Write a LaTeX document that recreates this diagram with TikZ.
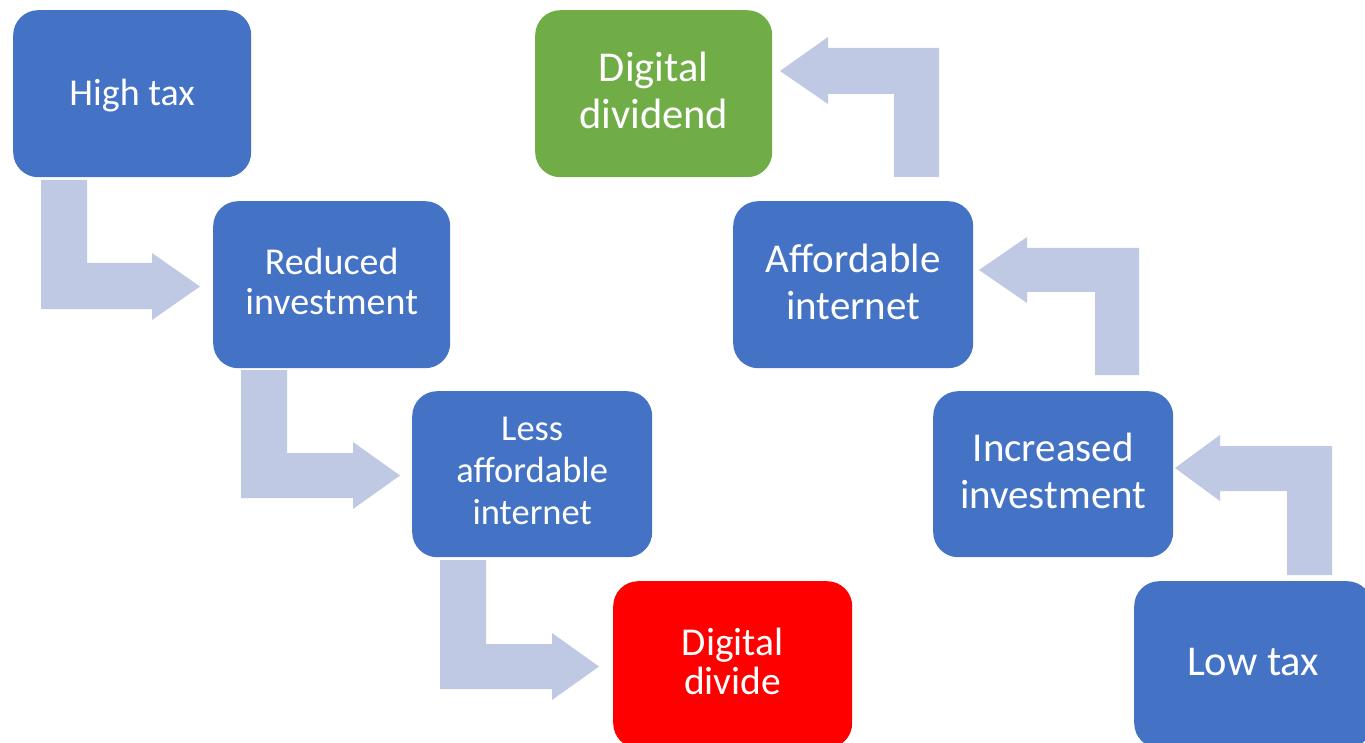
\documentclass[tikz,border=0pt]{standalone}
\usepackage{fontspec}
\setmainfont{Carlito}
\definecolor{boxblue}{RGB}{68,114,196}
\definecolor{boxgreen}{RGB}{112,173,71}
\definecolor{boxred}{RGB}{255,0,0}
\definecolor{arrowfill}{RGB}{191,201,228}
\tikzset{
  stagebox/.style={rectangle, rounded corners=25pt, fill=boxblue, draw=none,
    minimum width=238pt, minimum height=167pt, inner sep=0pt, anchor=north west,
    align=center, text=white, text depth=6pt},
  blockarrow/.style={fill=arrowfill, draw=none},
}
\newcommand{\fs}[2]{\fontsize{#1}{#2}\selectfont}
\begin{document}
\begin{tikzpicture}[x=1pt,y=-1pt]
\useasboundingbox (0,0) rectangle (1365,743);
% left chain
\node[stagebox, text depth=3pt, font=\fs{38}{40}] (high) at (13,10) {High tax};
\node[stagebox, minimum width=237pt, font=\fs{38}{40}] (reduced) at (213,201) {Reduced\\investment};
\node[stagebox, minimum width=240pt, minimum height=166pt, font=\fs{36.5}{42}] (less) at (412,391) {Less\\affordable\\internet};
\node[stagebox, minimum width=239pt, fill=boxred, font=\fs{39.5}{39}] (divide) at (613,581) {Digital\\divide};
% right chain
\node[stagebox, minimum width=237pt, fill=boxgreen, font=\fs{42.5}{47}] (dividend) at (535,10) {Digital\\dividend};
\node[stagebox, minimum width=240pt, font=\fs{41}{47.5}] (affordable) at (733,201) {Affordable\\internet};
\node[stagebox, minimum width=240pt, minimum height=166pt, font=\fs{41}{47}] (increased) at (933,391) {Increased\\investment};
\node[stagebox, font=\fs{42.5}{47}] (low) at (1134,581) {Low tax};
% bent block arrows, left chain (down then right)
\fill[blockarrow] (41,180) -- (87,180) -- (87,263) -- (152,263) -- (152,253) -- (200,286.5) -- (152,320) -- (152,309) -- (41,309) -- cycle;
\fill[blockarrow] (241,370) -- (287,370) -- (287,453) -- (353,453) -- (353,442) -- (400,475.5) -- (353,509) -- (353,498) -- (241,498) -- cycle;
\fill[blockarrow] (440,560) -- (486,560) -- (486,644) -- (552,644) -- (552,633) -- (599,666.5) -- (552,700) -- (552,689) -- (440,689) -- cycle;
% bent block arrows, right chain (up then left)
\fill[blockarrow] (939,177) -- (894,177) -- (894,94) -- (828,94) -- (828,104) -- (780,71) -- (828,37) -- (828,48) -- (939,48) -- cycle;
\fill[blockarrow] (1139,375) -- (1095,375) -- (1095,292) -- (1027,292) -- (1027,303) -- (979,270) -- (1027,237) -- (1027,248) -- (1139,248) -- cycle;
\fill[blockarrow] (1332,575) -- (1287,575) -- (1287,491) -- (1220,491) -- (1220,501) -- (1175,468) -- (1220,435) -- (1220,446) -- (1332,446) -- cycle;
\end{tikzpicture}
\end{document}
